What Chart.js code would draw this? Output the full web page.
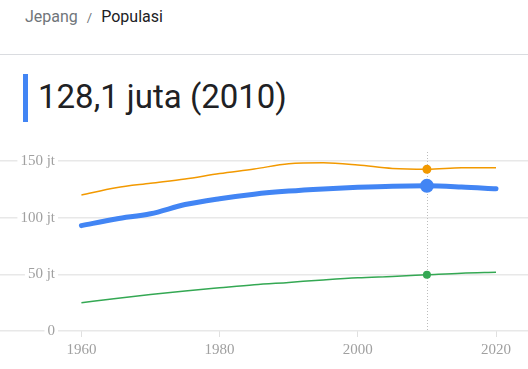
<!DOCTYPE html>
<html>
<head>
<meta charset="utf-8">
<script src="https://cdn.jsdelivr.net/npm/chart.js@4"></script>
<style>
  html, body { margin: 0; padding: 0; background: #fff; }
  body { width: 528px; height: 369px; position: relative; overflow: hidden; font-family: Roboto, sans-serif; }
  .crumb { position: absolute; left: 25px; top: 7px; font-size: 16px; color: #70757a; white-space: nowrap; }
  .crumb .sep { margin: 0 9px; font-size: 13px; }
  .crumb .cur { color: #202124; }
  .rule { position: absolute; left: 0; top: 54px; width: 528px; height: 1px; background: #dadce0; }
  .bar { position: absolute; left: 23px; top: 74px; width: 5px; height: 48px; background: #4285f4; }
  .title { position: absolute; left: 38px; top: 77px; font-size: 33px; line-height: 40px; color: #202124; white-space: nowrap; }
  .wrap { position: absolute; left: 0; top: 140px; width: 528px; height: 229px; }
</style>
</head>
<body>
<div class="crumb">Jepang<span class="sep">/</span><span class="cur">Populasi</span></div>
<div class="rule"></div>
<div class="bar"></div>
<div class="title">128,1 juta (2010)</div>
<div class="wrap"><canvas id="popChart" width="528" height="229"></canvas></div>
<script>
// Years and population (juta)
const years = [1960, 1965, 1970, 1975, 1980, 1985, 1990, 1995, 2000, 2005, 2010, 2015, 2020];
const japan = [93.0, 98.9, 103.5, 111.6, 116.8, 120.8, 123.5, 125.4, 126.8, 127.8, 128.1, 127.1, 125.5];
const russia = [120.0, 126.5, 130.4, 134.2, 139.0, 143.0, 147.6, 148.5, 146.6, 143.5, 142.8, 144.0, 144.1];
const korea = [25.0, 28.7, 32.2, 35.3, 38.1, 40.8, 42.9, 45.1, 47.0, 48.2, 49.6, 51.0, 51.8];

const xTicks = [1960, 1980, 2000, 2020];
const yTicks = [0, 50, 100, 150];
const yTickLabels = ['0', '50 jt', '100 jt', '150 jt'];
const markYear = 2010;

const toPoints = arr => arr.map((v, i) => ({ x: years[i], y: v }));
const markRadius = r => ctx => years[ctx.dataIndex] === markYear ? r : 0;

// dotted vertical line at the selected year
const markerLine = {
    id: 'markerLine',
    beforeDatasetsDraw(chart) {
        const { ctx, chartArea, scales } = chart;
        const x = Math.round(scales.x.getPixelForValue(markYear)) + 0.5;
        ctx.save();
        ctx.strokeStyle = '#bdbdbd';
        ctx.lineWidth = 1;
        ctx.setLineDash([1, 2]);
        ctx.beginPath();
        ctx.moveTo(x, chartArea.top);
        ctx.lineTo(x, chartArea.bottom);
        ctx.stroke();
        ctx.restore();
    }
};

const axisFont = { family: "'Liberation Serif', serif", size: 15 };

new Chart(document.getElementById('popChart').getContext('2d'), {
    type: 'line',
    data: {
        datasets: [
            {
                label: 'Rusia',
                data: toPoints(russia),
                borderColor: '#f29900',
                backgroundColor: '#f29900',
                borderWidth: 1.5,
                pointRadius: markRadius(4.5),
                pointBorderWidth: 0,
                cubicInterpolationMode: 'monotone',
                fill: false
            },
            {
                label: 'Korea Selatan',
                data: toPoints(korea),
                borderColor: '#34a853',
                backgroundColor: '#34a853',
                borderWidth: 1.5,
                pointRadius: markRadius(4),
                pointBorderWidth: 0,
                cubicInterpolationMode: 'monotone',
                fill: false
            },
            {
                label: 'Jepang',
                data: toPoints(japan),
                borderColor: '#4285f4',
                backgroundColor: '#4285f4',
                borderWidth: 5,
                borderCapStyle: 'round',
                pointRadius: markRadius(7),
                pointBorderWidth: 0,
                cubicInterpolationMode: 'monotone',
                fill: false
            }
        ]
    },
    plugins: [markerLine],
    options: {
        responsive: false,
        animation: false,
        events: [],
        layout: { padding: { top: 12, right: 0, left: 0, bottom: 0 } },
        plugins: {
            legend: { display: false },
            tooltip: { enabled: false }
        },
        scales: {
            x: {
                type: 'linear',
                min: 1956.9,
                max: 2024.63,
                afterBuildTicks: s => { s.ticks = xTicks.map(v => ({ value: v })); },
                afterFit: s => { s.height = 38; },
                border: { display: false },
                grid: { drawOnChartArea: false, drawTicks: true, tickLength: 6, color: '#e0e0e0' },
                ticks: {
                    font: axisFont,
                    color: '#a0a0a0',
                    padding: 4,
                    maxRotation: 0,
                    callback: v => String(v)
                }
            },
            y: {
                min: 0,
                max: 158,
                afterBuildTicks: s => { s.ticks = yTicks.map(v => ({ value: v })); },
                afterFit: s => { s.width = 60; },
                border: { display: false },
                grid: { color: '#e8e8e8', tickLength: 60, lineWidth: 1.5 },
                ticks: {
                    font: axisFont,
                    color: '#a0a0a0',
                    padding: -55,
                    showLabelBackdrop: true,
                    backdropColor: '#ffffff',
                    backdropPadding: { top: 1, bottom: 1, left: 3, right: 3 },
                    callback: v => yTickLabels[yTicks.indexOf(v)]
                }
            }
        }
    }
});
</script>
</body>
</html>
